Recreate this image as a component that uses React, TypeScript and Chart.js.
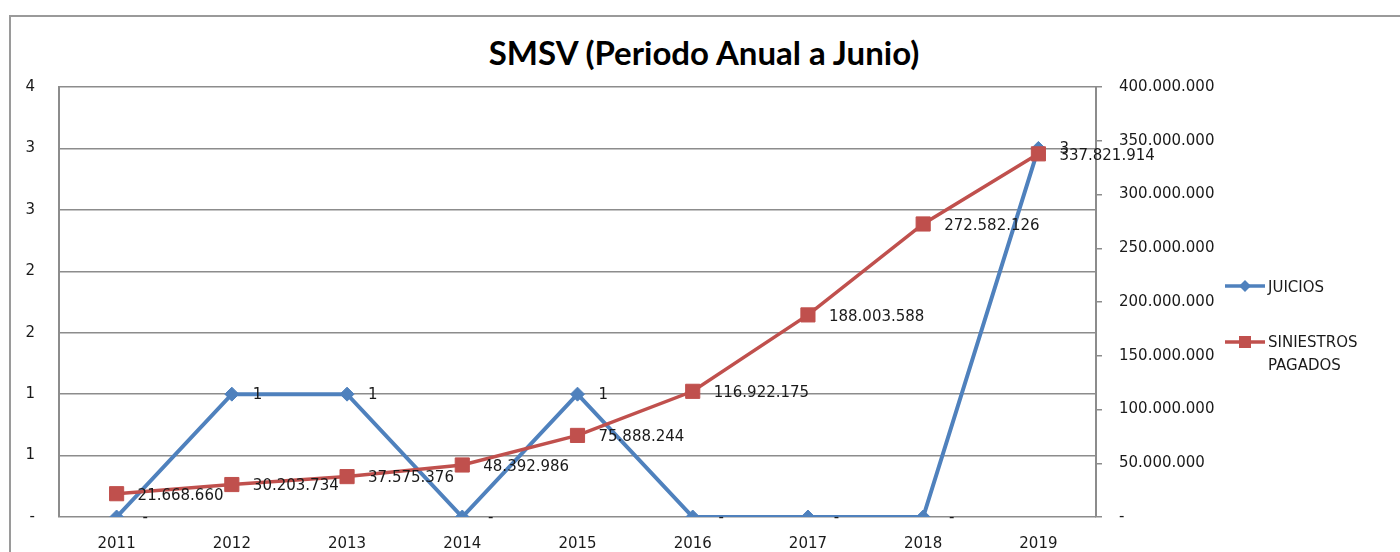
import React, { useEffect, useRef } from 'react';
import { Chart, registerables } from 'chart.js';

Chart.register(...registerables);

const YEARS = ['2011', '2012', '2013', '2014', '2015', '2016', '2017', '2018', '2019'];
const JUICIOS = [0, 1, 1, 0, 1, 0, 0, 0, 3];
const SINIESTROS = [21668660, 30203734, 37575376, 48392986, 75888244, 116922175, 188003588, 272582126, 337821914];
const LEFT_MAX = 3.5;
const LEFT_STEP = 0.5;
const RIGHT_MAX = 400000000;
const RIGHT_STEP = 50000000;

const TITLE = 'SMSV (Periodo Anual a Junio)';
const LEGEND_JUICIOS = 'JUICIOS';
const LEGEND_SIN = ['SINIESTROS', 'PAGADOS'];

const BLUE = '#4F81BD';
const RED = '#C0504D';
const FONT = '"DejaVu Sans", Verdana, sans-serif';

function fmt(n: number): string {
  if (n === 0) return '-';
  return Math.round(n).toString().replace(/\B(?=(\d{3})+(?!\d))/g, '.');
}

const valueLabels = {
  id: 'valueLabels',
  afterDatasetsDraw(chart: any) {
    const ctx = chart.ctx;
    ctx.save();
    ctx.font = '15px ' + FONT;
    ctx.fillStyle = '#1a1a1a';
    ctx.textAlign = 'left';
    ctx.textBaseline = 'middle';
    chart.data.datasets.forEach((ds: any, i: number) => {
      const meta = chart.getDatasetMeta(i);
      const dy = ds.yAxisID === 'y2' ? 2 : 1;
      meta.data.forEach((pt: any, j: number) => {
        const v = ds.data[j];
        const text = v === 0 ? ' -' : fmt(v);
        ctx.fillText(text, pt.x + 21, pt.y + dy);
      });
    });
    ctx.restore();
  },
};

export default function App() {
  const ref = useRef<HTMLCanvasElement>(null);

  useEffect(() => {
    if (!ref.current) return;
    const chart = new Chart(ref.current, {
      type: 'line',
      data: {
        labels: YEARS,
        datasets: [
          {
            label: 'SINIESTROS PAGADOS',
            data: SINIESTROS,
            yAxisID: 'y2',
            borderColor: RED,
            backgroundColor: RED,
            borderWidth: 3.5,
            pointStyle: 'rect',
            pointRadius: 10,
            pointBorderWidth: 1,
            pointBackgroundColor: RED,
            pointBorderColor: RED,
            tension: 0,
            order: 0,
          },
          {
            label: 'JUICIOS',
            data: JUICIOS,
            yAxisID: 'y',
            borderColor: BLUE,
            backgroundColor: BLUE,
            borderWidth: 4,
            pointStyle: 'rectRot',
            pointRadius: 7,
            pointBorderWidth: 1,
            pointBackgroundColor: BLUE,
            pointBorderColor: BLUE,
            tension: 0,
            order: 1,
          },
        ],
      },
      options: {
        animation: false,
        responsive: false,
        devicePixelRatio: 1,
        layout: { padding: { top: 87, left: 0, right: 0, bottom: 0 } },
        plugins: {
          legend: { display: false },
          title: { display: false },
          tooltip: { enabled: false },
        },
        scales: {
          x: {
            type: 'category',
            offset: true,
            grid: { display: false, drawTicks: false },
            border: { display: false },
            ticks: {
              color: '#1a1a1a',
              font: { family: FONT, size: 15 },
              padding: 18,
              maxRotation: 0,
              autoSkip: false,
            },
            afterFit: (s: any) => { s.height = 35; },
          },
          y: {
            type: 'linear',
            position: 'left',
            min: 0,
            max: LEFT_MAX,
            grid: { color: '#8c8c8c', lineWidth: 1.5, drawTicks: false },
            border: { display: true, color: '#8c8c8c', width: 2 },
            ticks: {
              stepSize: LEFT_STEP,
              color: '#1a1a1a',
              font: { family: FONT, size: 15 },
              padding: 24,
              callback: (v: any) => fmt(Math.round(Number(v))),
            },
            afterFit: (s: any) => { s.width = 59; },
          },
          y2: {
            type: 'linear',
            position: 'right',
            min: 0,
            max: RIGHT_MAX,
            grid: { drawOnChartArea: false, drawTicks: true, tickLength: 6, color: '#8c8c8c', lineWidth: 1.5 },
            border: { display: true, color: '#8c8c8c', width: 2 },
            ticks: {
              stepSize: RIGHT_STEP,
              color: '#1a1a1a',
              font: { family: FONT, size: 15 },
              padding: 17,
              callback: (v: any) => fmt(Number(v)),
            },
            afterFit: (s: any) => { s.width = 1400 - 1096; },
          },
        },
      },
      plugins: [valueLabels],
    } as any);
    return () => chart.destroy();
  }, []);

  return (
    <div style={{ position: 'fixed', left: 0, top: 0, width: 1400, height: 552, overflow: 'hidden', background: '#fff' }}>
      <div style={{ position: 'absolute', left: 9, top: 15, width: 1420, height: 620, border: '2px solid #9a9a9a', boxSizing: 'border-box' }} />
      <div style={{ position: 'absolute', left: 0, top: 31, width: 1408, textAlign: 'center', fontFamily: 'Lato, "Open Sans", sans-serif', fontWeight: 700, fontSize: 33, color: '#000', lineHeight: '42px' }}>{TITLE}</div>
      <canvas ref={ref} width={1400} height={552} style={{ position: 'absolute', left: 0, top: 0, width: 1400, height: 552 }} />
      <svg style={{ position: 'absolute', left: 0, top: 0 }} width={1400} height={552}>
        <line x1={1225} y1={286} x2={1265} y2={286} stroke={BLUE} strokeWidth={3.5} />
        <polygon points="1245,280 1251,286 1245,292 1239,286" fill={BLUE} />
        <line x1={1225} y1={342} x2={1265} y2={342} stroke={RED} strokeWidth={3.5} />
        <rect x={1239} y={336} width={12} height={12} fill={RED} />
      </svg>
      <div style={{ position: 'absolute', left: 1268, top: 276, fontFamily: FONT, fontSize: 15, color: '#1a1a1a', lineHeight: '22px' }}>{LEGEND_JUICIOS}</div>
      <div style={{ position: 'absolute', left: 1268, top: 331, fontFamily: FONT, fontSize: 15, color: '#1a1a1a', lineHeight: '23px' }}>
        {LEGEND_SIN[0]}<br />{LEGEND_SIN[1]}
      </div>
    </div>
  );
}
